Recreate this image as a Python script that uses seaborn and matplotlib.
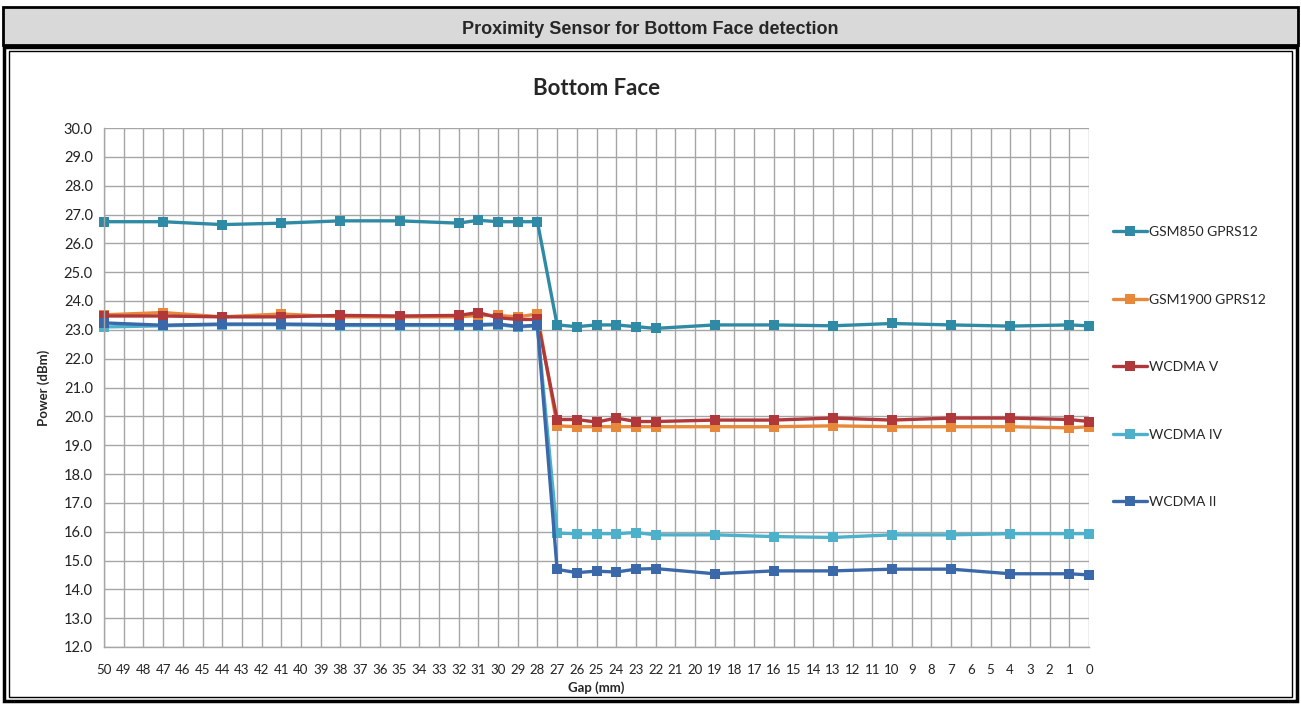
import matplotlib.pyplot as plt
import seaborn as sns
import pandas as pd
from matplotlib.patches import Rectangle

# Gap positions that were measured (mm)
gap = [50, 47, 44, 41, 38, 35, 32, 31, 30, 29, 28, 27, 26, 25, 24, 23, 22, 19, 16, 13, 10, 7, 4, 1, 0]

gsm850 = [26.75, 26.75, 26.65, 26.70, 26.78, 26.78, 26.70, 26.80, 26.75, 26.75, 26.75,
          23.17, 23.11, 23.17, 23.17, 23.11, 23.05, 23.17, 23.17, 23.14, 23.22, 23.17, 23.13, 23.17, 23.14]
gsm1900 = [23.52, 23.60, 23.45, 23.55, 23.45, 23.45, 23.45, 23.50, 23.50, 23.45, 23.55,
           19.67, 19.64, 19.64, 19.64, 19.64, 19.64, 19.64, 19.64, 19.67, 19.64, 19.64, 19.64, 19.60, 19.64]
wcdma_v = [23.48, 23.48, 23.45, 23.45, 23.50, 23.48, 23.50, 23.60, 23.42, 23.36, 23.36,
           19.89, 19.89, 19.80, 19.94, 19.82, 19.82, 19.87, 19.87, 19.94, 19.87, 19.94, 19.94, 19.89, 19.82]
wcdma_iv = [23.10, 23.14, 23.18, 23.18, 23.15, 23.15, 23.15, 23.15, 23.18, 23.10, 23.14,
            15.95, 15.93, 15.93, 15.93, 15.97, 15.89, 15.89, 15.83, 15.80, 15.89, 15.89, 15.93, 15.93, 15.93]
wcdma_ii = [23.24, 23.16, 23.20, 23.20, 23.18, 23.18, 23.18, 23.18, 23.20, 23.12, 23.16,
            14.69, 14.58, 14.63, 14.60, 14.70, 14.72, 14.54, 14.64, 14.64, 14.70, 14.70, 14.54, 14.54, 14.50]

series_names = ["GSM850 GPRS12", "GSM1900 GPRS12", "WCDMA V", "WCDMA IV", "WCDMA II"]
colors = ["#2F8BA5", "#E8883A", "#B0383A", "#4DB1CC", "#3A68A8"]

rows = []
for name, vals in zip(series_names, [gsm850, gsm1900, wcdma_v, wcdma_iv, wcdma_ii]):
    for g, v in zip(gap, vals):
        rows.append({"Gap": g, "Power": v, "Series": name})
df = pd.DataFrame(rows)

sns.set_theme(style="white")
plt.rcParams['font.family'] = ['Lato', 'DejaVu Sans']

W, H = 1301, 704
fig = plt.figure(figsize=(W / 100, H / 100), dpi=100)


def px_rect(x0, y0, x1, y1, **kw):
    # rectangle in pixel coordinates measured from the top-left
    r = Rectangle((x0 / W, 1 - y1 / H), (x1 - x0) / W, (y1 - y0) / H,
                  transform=fig.transFigure, **kw)
    fig.add_artist(r)


# header band and chart frame
px_rect(3, 7, 1298, 45, facecolor="#D9D9D9", edgecolor="black", linewidth=2)
px_rect(4, 47, 1297, 701, facecolor="none", edgecolor="black", linewidth=2.5)
px_rect(9, 51, 1292, 697, facecolor="none", edgecolor="black", linewidth=1)
fig.text(0.5, 1 - 29 / H, "Proximity Sensor for Bottom Face detection",
         ha="center", va="center", fontsize=13, fontweight="bold", family="Liberation Sans")

ax = fig.add_axes([104 / W, 1 - 647 / H, 985 / W, 519 / H])

sns.lineplot(data=df, x="Gap", y="Power", hue="Series", hue_order=series_names,
             palette=colors, marker="s", markersize=7, markeredgewidth=0,
             linewidth=2.4, ax=ax, clip_on=False)

ax.set_xlim(50, 0)
ax.set_ylim(12, 30)
ax.set_xticks(range(0, 51))
ax.set_xticklabels([str(i) for i in range(0, 51)], fontsize=9.5)
ax.set_yticks([12 + i for i in range(19)])
ax.set_yticklabels([f"{12 + i:.1f}" for i in range(19)], fontsize=10.5)
ax.grid(True, color="#A6A6A6", linewidth=1)
for s in ["top", "right"]:
    ax.spines[s].set_visible(False)
for s in ["left", "bottom"]:
    ax.spines[s].set_color("#A6A6A6")
    ax.spines[s].set_linewidth(1)
ax.tick_params(axis="both", which="both", direction="out", length=5, color="#A6A6A6",
               width=1, labelcolor="#222222")
ax.tick_params(axis="x", pad=7)
ax.tick_params(axis="y", pad=3)

ax.set_xlabel("Gap (mm)", fontsize=9.5, fontweight="bold", labelpad=4)
ax.set_ylabel("Power (dBm)", fontsize=9.5, fontweight="bold", labelpad=10)
ax.set_title("Bottom Face", fontsize=16, fontweight="bold", pad=24)

leg = ax.legend(loc="upper left", bbox_to_anchor=(1.012, 0.835), frameon=False,
                fontsize=10, labelspacing=4.0, handlelength=2.4, handletextpad=0.15)
for line in leg.get_lines():
    line.set_linewidth(2.4)

fig.savefig("out.png", dpi=100)
